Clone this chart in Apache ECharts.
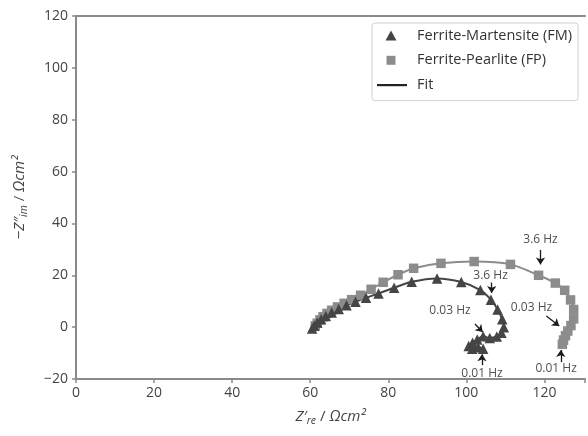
<!DOCTYPE html>
<html>
<head>
<meta charset="utf-8">
<script src="https://cdn.jsdelivr.net/npm/echarts@6/dist/echarts.min.js"></script>
<style>html,body{margin:0;padding:0;background:#fff}#c{width:588px;height:436px}</style>
</head>
<body>
<div id="c"></div>
<script>
// Ferrite-Pearlite (FP) measured points [Z're, -Z''im]
const fpData = [
  [61.3,0.5],[61.8,1.5],[62.5,2.8],[63.3,4],[64.3,5.3],[65.5,6.5],[67,7.8],[68.7,9.2],
  [70.6,10.6],[72.9,12.3],[75.6,14.6],[78.7,17.3],[82.5,20.2],[86.5,22.7],[93.5,24.6],
  [102,25.3],[111.3,24.2],[118.5,20],[122.8,17],[125.2,14.2],[126.7,10.5],[127.5,6.8],
  [127.5,3.2],[126.8,0.6],[126,-1.5],[125.4,-3.3],[124.9,-5],[124.6,-6.6]
];
// Ferrite-Martensite (FM) measured points
const fmData = [
  [60.5,-0.5],[61,0.5],[61.8,1.8],[62.8,3],[64,4.3],[65.5,5.6],[67.3,7],[69.3,8.4],
  [71.6,9.8],[74.3,11.3],[77.5,13],[81.5,15.2],[86,17.5],[92.5,18.8],[98.7,17.4],
  [103.6,14.3],[106.3,10.6],[108,6.8],[109.2,3],[109.6,0],[109,-2.2],[107.8,-3.6],
  [106,-4.2],[104.3,-3.5],[102.8,-4.8],[101.6,-6],[100.6,-7.3],[101.5,-8.3],[103,-7.8],[104.3,-8.3]
];
// frequency annotations: label, label position, arrow start, arrow end (data units)
const annotLabels = ['3.6 Hz','3.6 Hz','0.03 Hz','0.01 Hz','0.03 Hz','0.01 Hz'];
const annotTextPos = [[119,33.8],[106.2,19.8],[95.8,6.2],[104,-17.8],[116.7,7.7],[123,-15.9]];
const annotFrom = [[119,29.8],[106.5,17.2],[102.2,1.2],[104,-14.7],[120.5,4.3],[124.2,-13.5]];
const annotTo = [[119,24.2],[106.5,13.2],[104.2,-1.9],[104,-10.5],[123.8,0.4],[124.2,-8.8]];
const xTicks = [0,20,40,60,80,100,120];
const yTicks = [-20,0,20,40,60,80,100,120];

const FONT = 'Open Sans';
const axisCol = '#8a8a8a';
const fmCol = '#454545';
const fpCol = '#8c8c8c';

const nameRich = {
  it: {fontStyle: 'italic', fontSize: 15, color: '#444', fontFamily: FONT, lineHeight: 20},
  n: {fontSize: 15, color: '#444', fontFamily: FONT, lineHeight: 20},
  sub: {fontStyle: 'italic', fontSize: 10.5, color: '#444', fontFamily: FONT, lineHeight: 11, verticalAlign: 'bottom'}
};

const chart = echarts.init(document.getElementById('c'));
const option = {
  animation: false,
  backgroundColor: '#fff',
  textStyle: {fontFamily: FONT},
  grid: {left: 76, right: 0, top: 16, bottom: 57, containLabel: false},
  legend: {
    orient: 'vertical', left: 372, top: 23,
    padding: [5, 6, 8, 5], itemGap: 9.8, itemWidth: 35, itemHeight: 13,
    backgroundColor: '#fff', borderColor: '#d0d0d0', borderWidth: 1, borderRadius: 3,
    textStyle: {fontFamily: FONT, fontSize: 14.5, color: '#333'},
    data: [
      {name: 'Ferrite-Martensite (FM)', icon: 'path://M0,0M35,13M8.5,11.5L14,1.5L19.5,11.5Z', itemStyle: {color: fmCol}},
      {name: 'Ferrite-Pearlite (FP)', icon: 'path://M0,0M35,13M9.5,2L18.5,2L18.5,11L9.5,11Z', itemStyle: {color: fpCol}},
      {name: 'Fit', icon: 'path://M0,0M35,13M0,5.4L30,5.4L30,7.6L0,7.6Z', itemStyle: {color: '#222'}}
    ]
  },
  xAxis: [{
    type: 'value', min: 0, max: 130.4, interval: 20,
    name: '{it|Z′}{sub|re}{n| / }{it|Ωcm²}', nameLocation: 'middle', nameGap: 28,
    nameTextStyle: {rich: nameRich},
    axisLine: {show: true, onZero: false, lineStyle: {color: axisCol, width: 2}},
    axisTick: {show: true, length: 4, lineStyle: {color: axisCol, width: 1.5}},
    axisLabel: {margin: 7, fontSize: 14, color: '#444', fontFamily: FONT,
      formatter: v => xTicks.indexOf(v) >= 0 ? String(v) : ''},
    splitLine: {show: false}
  }, {
    type: 'value', position: 'top', min: 0, max: 130.4,
    axisLine: {show: true, onZero: false, lineStyle: {color: axisCol, width: 2}},
    axisTick: {show: false}, axisLabel: {show: false}, splitLine: {show: false}
  }],
  yAxis: {
    type: 'value', min: -20, max: 120, interval: 20,
    name: '{n|−}{it|Z″}{sub|im}{n| / }{it|Ωcm²}', nameLocation: 'middle', nameGap: 46,
    nameTextStyle: {rich: nameRich},
    axisLine: {show: true, onZero: false, lineStyle: {color: axisCol, width: 2}},
    axisTick: {show: true, length: 4, lineStyle: {color: axisCol, width: 1.5}},
    axisLabel: {margin: 8, fontSize: 14, color: '#444', fontFamily: FONT,
      formatter: v => (yTicks.indexOf(v) < 0 ? '' : v < 0 ? '−' + Math.abs(v) : String(v))},
    splitLine: {show: false}
  },
  series: [
    {name: 'Fit', type: 'line', data: fpData, smooth: 0.3, showSymbol: false, z: 2,
      lineStyle: {color: fpCol, width: 2}, itemStyle: {color: '#222'}},
    {name: 'Fit', type: 'line', data: fmData, smooth: 0.3, showSymbol: false, z: 2,
      lineStyle: {color: fmCol, width: 2}, itemStyle: {color: '#222'}},
    {name: 'Ferrite-Pearlite (FP)', type: 'scatter', data: fpData, symbol: 'rect', symbolSize: 9.5, z: 3,
      itemStyle: {color: fpCol, opacity: 1}},
    {name: 'Ferrite-Martensite (FM)', type: 'scatter', data: fmData, symbol: 'triangle', symbolSize: 10.5, z: 4,
      itemStyle: {color: fmCol, opacity: 1}},
    {name: 'annot', type: 'scatter', symbolSize: 0, z: 6,
      data: annotLabels.map((t, i) => ({name: t, value: annotTextPos[i]})),
      label: {show: true, position: 'inside', formatter: p => p.name, fontSize: 12, color: '#222', fontFamily: FONT},
      markLine: {
        silent: true, symbol: ['none', 'arrow'], symbolSize: 7, precision: 3,
        lineStyle: {color: '#1a1a1a', width: 1.3, type: 'solid'}, label: {show: false},
        data: annotFrom.map((f, i) => [{coord: f}, {coord: annotTo[i]}])
      }
    }
  ]
};
chart.setOption(option);
</script>
</body>
</html>
